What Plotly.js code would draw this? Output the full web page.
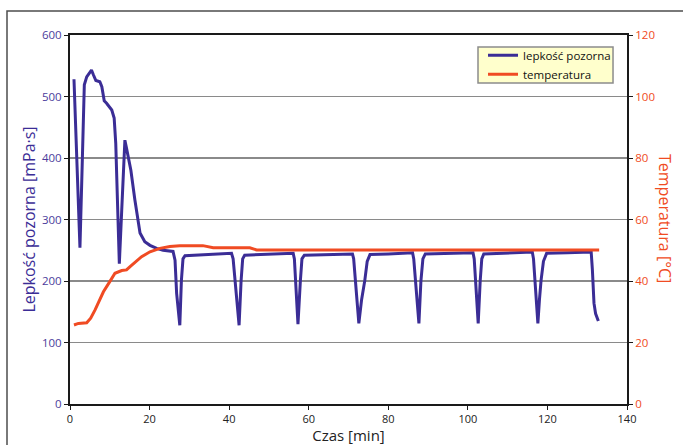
<!DOCTYPE html>
<html>
<head>
<meta charset="utf-8">
<script src="https://cdn.plot.ly/plotly-3.0.1.min.js"></script>
<style>
  html, body { margin: 0; padding: 0; background: #ffffff; }
  #chart { width: 683px; height: 445px; }
</style>
</head>
<body>
<div id="chart"></div>
<script>
// Apparent viscosity over time [min] -> [mPa·s]
const viscTime = [
  1.0, 1.7, 2.5, 3.1, 3.6, 4.2, 4.8, 5.4, 5.9, 6.5, 7.5, 8.0, 8.6, 9.2, 10.5, 11.1, 11.5, 11.9, 12.4,
  13.0, 13.8, 14.2, 15.3, 16.3, 17.6, 18.8, 20.1, 21.8, 23.4, 25.9, 26.4, 26.8, 27.6,
  28.0, 28.4, 28.9, 34.0, 40.6,
  41.0, 41.6, 42.5, 43.0, 43.4, 43.9, 50.0, 56.1,
  56.4, 56.8, 57.3, 57.9, 58.3, 58.9, 65.0, 71.0,
  71.3, 71.8, 72.6, 73.3, 74.1, 74.7, 75.4, 80.0, 86.1,
  86.4, 86.9, 87.7, 88.2, 88.7, 89.3, 95.0, 101.3,
  101.6, 102.0, 102.6, 103.1, 103.5, 104.0, 110.0, 116.2,
  116.5, 116.9, 117.6, 118.0, 118.4, 119.0, 119.8, 125.0, 131.0,
  131.3, 131.7, 132.1, 132.8
];
const viscValue = [
  528, 397, 254, 397, 519, 532, 538, 543, 535, 526, 524, 516, 493, 489, 478, 465, 424, 343, 228,
  315, 429, 416, 380, 332, 278, 264, 258, 253, 250, 248, 234, 180, 128,
  201, 236, 241, 243, 245,
  236, 190, 128, 200, 236, 242, 244, 245,
  236, 190, 130, 200, 236, 242, 243, 244,
  236, 190, 131, 170, 201, 232, 243, 244, 246,
  236, 190, 131, 200, 236, 244, 245, 246,
  236, 190, 131, 200, 236, 244, 246, 247,
  236, 190, 131, 170, 201, 232, 245, 246, 247,
  218, 164, 147, 135
];

// Temperature over time [min] -> [°C]
const tempTime = [
  1.0, 2.1, 4.2, 5.2, 6.3, 8.4, 10.0, 11.3, 13.0, 14.2, 15.1, 16.7, 18.0, 20.1, 22.6, 25.1,
  27.6, 33.4, 35.0, 36.0, 45.2, 46.9, 133.0
];
const tempValue = [
  25.7, 26.2, 26.4, 27.9, 30.6, 36.5, 39.8, 42.5, 43.4, 43.6, 44.7, 46.5, 47.9, 49.5, 50.6, 51.2,
  51.5, 51.5, 51.2, 50.8, 50.8, 50.1, 50.1
];

const seriesNames = ['lepkość pozorna', 'temperatura'];
const xTicks = [0, 20, 40, 60, 80, 100, 120, 140];
const yLeftTicks = [0, 100, 200, 300, 400, 500, 600];
const yRightTicks = [0, 20, 40, 60, 80, 100, 120];

const VISC = '#3b2d96';
const TEMP = '#f04b23';
const FONT = '"Open Sans", "Liberation Sans", sans-serif';

const traces = [
  {
    x: viscTime, y: viscValue, name: seriesNames[0],
    type: 'scatter', mode: 'lines',
    line: { color: VISC, width: 3 },
    xaxis: 'x', yaxis: 'y'
  },
  {
    x: tempTime, y: tempValue, name: seriesNames[1],
    type: 'scatter', mode: 'lines',
    line: { color: TEMP, width: 3 },
    xaxis: 'x', yaxis: 'y2'
  }
];

const layout = {
  width: 683,
  height: 445,
  margin: { l: 70, r: 56, t: 35, b: 41, pad: 0 },
  paper_bgcolor: '#ffffff',
  plot_bgcolor: '#ffffff',
  font: { family: FONT, size: 12, color: '#222222' },
  showlegend: true,
  legend: {
    x: 0.7415, y: 0.9846, xanchor: 'left', yanchor: 'top',
    bgcolor: 'rgba(0,0,0,0)', borderwidth: 0,
    font: { family: FONT, size: 11.5, color: '#111111' },
    itemwidth: 30, tracegroupgap: 0
  },
  xaxis: {
    range: [0, 140], tickvals: xTicks, ticktext: xTicks.map(String),
    showgrid: false, zeroline: false,
    showline: true, linecolor: '#1a1a1a', linewidth: 2, mirror: true,
    ticks: 'outside', ticklen: 4, tickwidth: 1, tickcolor: '#1a1a1a',
    tickfont: { family: FONT, size: 11, color: '#222222' },
    title: { text: 'Czas [min]', font: { family: FONT, size: 15, color: '#222222' }, standoff: 3 },
    fixedrange: true
  },
  yaxis: {
    range: [0, 600], tickvals: yLeftTicks, ticktext: yLeftTicks.map(String),
    showgrid: true, gridcolor: '#8a8a8a', gridwidth: 1.5, zeroline: false,
    showline: true, linecolor: '#1a1a1a', linewidth: 2,
    ticks: 'outside', ticklen: 4, tickwidth: 1, tickcolor: '#1a1a1a',
    tickfont: { family: FONT, size: 11.5, color: '#4a3c9c' },
    title: { text: 'Lepkość pozorna [mPa·s]', font: { family: FONT, size: 16, color: VISC }, standoff: 2 },
    fixedrange: true
  },
  yaxis2: {
    range: [0, 120], tickvals: yRightTicks, ticktext: yRightTicks.map(String),
    overlaying: 'y', side: 'right',
    showgrid: false, zeroline: false,
    showline: true, linecolor: '#1a1a1a', linewidth: 2,
    ticks: 'outside', ticklen: 4, tickwidth: 1, tickcolor: '#1a1a1a',
    tickfont: { family: FONT, size: 11.5, color: TEMP },
    fixedrange: true
  },
  annotations: [
    // right-hand axis title, placed beside the temperature tick labels
    {
      text: 'Temperatura [°C]', xref: 'paper', yref: 'paper',
      x: 1.0682, y: 0.5014, xanchor: 'center', yanchor: 'middle',
      textangle: 90, showarrow: false,
      font: { family: FONT, size: 16, color: TEMP }
    }
  ],
  shapes: [
    // outer chart-area frame (left and top edges fall inside the page)
    {
      type: 'rect', xref: 'paper', yref: 'paper', layer: 'below',
      x0: -0.1131, x1: 1.3, y0: -0.4, y1: 1.065,
      line: { color: '#4d4d4d', width: 1.5 }, fillcolor: 'rgba(0,0,0,0)'
    },
    // legend box
    {
      type: 'rect', xref: 'paper', yref: 'paper', layer: 'above',
      x0: 0.7325, x1: 0.9749, y0: 0.8699, y1: 0.9675,
      line: { color: '#8c8c8c', width: 1.5 }, fillcolor: '#ffffcc'
    }
  ]
};

Plotly.newPlot('chart', traces, layout, { staticPlot: true, displayModeBar: false });
</script>
</body>
</html>
